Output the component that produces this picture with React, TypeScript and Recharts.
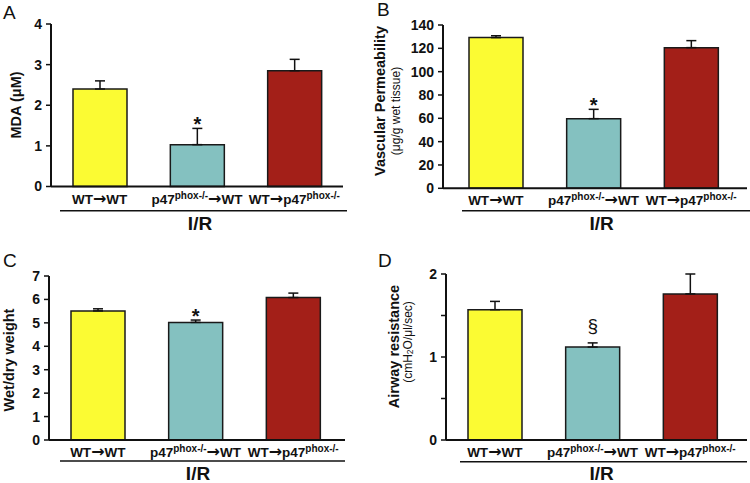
import { Bar, BarChart, Cell, ErrorBar, LabelList, XAxis, YAxis } from 'recharts';

const FONT = '"Liberation Sans", Arial, sans-serif';
const ARROW_FONT = '"DejaVu Sans", sans-serif';
const INK = '#111';

const groups = ['WT→WT', 'p47phox-/-→WT', 'WT→p47phox-/-'];
const barColors = ['#fbfb33', '#84c1c0', '#a31f18'];

const mdaMean = [2.4, 1.03, 2.85];
const mdaSem = [0.2, 0.4, 0.28];
const mdaTicks = [0, 1, 2, 3, 4];

const permMean = [129.2, 59.7, 120.6];
const permSem = [1.6, 8.0, 6.0];
const permTicks = [0, 20, 40, 60, 80, 100, 120, 140];

const wetDryMean = [5.51, 5.02, 6.08];
const wetDrySem = [0.09, 0.1, 0.19];
const wetDryTicks = [0, 1, 2, 3, 4, 5, 6, 7];

const airwayMean = [1.57, 1.12, 1.76];
const airwaySem = [0.1, 0.05, 0.24];
const airwayTicks = [0, 0.5, 1, 1.5, 2];

const starMarks = ['', '*', ''];
const sectionMarks = ['', '§', ''];

const buildRows = (means: number[], sems: number[]) =>
  groups.map((group, i) => ({ group, value: means[i], err: [0, sems[i]] }));

// splits "a→b" labels, draws the arrow wider and "phox-/-" raised
const renderLabel = (label: string) => {
  const out: any[] = [];
  let lift = 0;
  const tokens = label.split(/(→|phox-\/-)/).filter((t) => t !== '');
  tokens.forEach((t, i) => {
    if (t === '→') {
      out.push(
        <tspan key={i} fontFamily={ARROW_FONT} fontWeight="bold" fontSize={16} dy={-lift}>
          {'→'}
        </tspan>
      );
      lift = 0;
    } else if (t.startsWith('phox')) {
      out.push(
        <tspan key={i} fontSize={10} dy={-5}>
          {t}
        </tspan>
      );
      lift = -5;
    } else {
      out.push(
        <tspan key={i} dy={-lift}>
          {t}
        </tspan>
      );
      lift = 0;
    }
  });
  return out;
};

const GroupTick = (props: any) => {
  const { x, y, payload } = props;
  return (
    <text x={x} y={y + 17} textAnchor="middle" fontFamily={FONT} fontWeight="bold" fontSize={13.5} fill={INK}>
      {renderLabel(String(payload.value))}
    </text>
  );
};

// marker above the error bar (significance)
const makeMarker = (marks: string[], means: number[], sems: number[], isStar: boolean) => (props: any) => {
  const { x, y, width, height, index } = props;
  const mark = marks[index];
  if (!mark) return null;
  const perUnit = height / means[index];
  const errTop = y - sems[index] * perUnit;
  return (
    <text
      x={x + width / 2}
      y={isStar ? errTop + 3 : errTop - 11}
      textAnchor="middle"
      fontFamily={FONT}
      fontWeight={isStar ? 'bold' : 'normal'}
      fontSize={isStar ? 20 : 19}
      fill={INK}
    >
      {mark}
    </text>
  );
};

interface PanelProps {
  left: number;
  top: number;
  height: number;
  plotLeft: number;
  plotTop: number;
  plotRight: number;
  xHeight: number;
  pad: { left: number; right: number };
  means: number[];
  sems: number[];
  ticks: number[];
  marks: string[];
  isStar: boolean;
  fmt?: (v: number) => string;
}

const Panel = ({ left, top, height, plotLeft, plotTop, plotRight, xHeight, pad, means, sems, ticks, marks, isStar, fmt }: PanelProps) => {
  const data = buildRows(means, sems);
  return (
    <div style={{ position: 'absolute', left, top, width: 375, height }}>
      <BarChart
        width={375}
        height={height}
        data={data}
        margin={{ top: plotTop, right: 375 - plotRight, bottom: 0, left: 0 }}
      >
        <XAxis
          dataKey="group"
          height={xHeight}
          interval={0}
          tickLine={false}
          tickSize={0}
          tickMargin={0}
          padding={pad}
          axisLine={{ stroke: INK, strokeWidth: 2 }}
          tick={<GroupTick />}
        />
        <YAxis
          width={plotLeft}
          domain={[ticks[0], ticks[ticks.length - 1]]}
          ticks={ticks}
          interval={0}
          tickSize={5}
          tickMargin={4}
          tickFormatter={fmt}
          axisLine={{ stroke: INK, strokeWidth: 2 }}
          tickLine={{ stroke: INK, strokeWidth: 1.5 }}
          tick={{ fontSize: 14, fontWeight: 'bold', fill: INK, fontFamily: FONT }}
        />
        <Bar dataKey="value" barSize={54} stroke="#1a1a1a" strokeWidth={1.5} isAnimationActive={false}>
          {data.map((d, i) => (
            <Cell key={d.group} fill={barColors[i]} />
          ))}
          <ErrorBar dataKey="err" direction="y" width={5} stroke={INK} strokeWidth={1.5} />
          <LabelList dataKey="value" content={makeMarker(marks, means, sems, isStar)} />
        </Bar>
      </BarChart>
    </div>
  );
};

const rotated = (cx: number, cy: number) => `rotate(-90 ${cx} ${cy})`;

const Overlay = () => (
  <svg
    width={750}
    height={483}
    style={{ position: 'absolute', left: 0, top: 0, pointerEvents: 'none' }}
    fontFamily={FONT}
    fill={INK}
  >
    <text x={3} y={19} fontSize={19}>A</text>
    <text x={377} y={16} fontSize={19}>B</text>
    <text x={3} y={267} fontSize={19}>C</text>
    <text x={378} y={267} fontSize={19}>D</text>

    <line x1={60} x2={347} y1={210.7} y2={210.7} stroke={INK} strokeWidth={1.5} />
    <line x1={462} x2={750} y1={210.7} y2={210.7} stroke={INK} strokeWidth={1.5} />
    <line x1={60} x2={345} y1={461} y2={461} stroke={INK} strokeWidth={1.5} />
    <line x1={460} x2={747} y1={461.7} y2={461.7} stroke={INK} strokeWidth={1.5} />

    <text x={200} y={230} fontSize={19} fontWeight="bold" textAnchor="middle">I/R</text>
    <text x={601.7} y={230} fontSize={19} fontWeight="bold" textAnchor="middle">I/R</text>
    <text x={198} y={479.5} fontSize={19} fontWeight="bold" textAnchor="middle">I/R</text>
    <text x={601.7} y={479.5} fontSize={19} fontWeight="bold" textAnchor="middle">I/R</text>

    <text x={15.5} y={105} transform={rotated(15.5, 105)} textAnchor="middle" dominantBaseline="central" fontSize={14.5} fontWeight="bold">
      MDA (μM)
    </text>
    <text x={380} y={101} transform={rotated(380, 101)} textAnchor="middle" dominantBaseline="central" fontSize={14.5} fontWeight="bold">
      Vascular Permeability
    </text>
    <text x={396} y={111} transform={rotated(396, 111)} textAnchor="middle" dominantBaseline="central" fontSize={12}>
      (μg/g wet tissue)
    </text>
    <text x={8.5} y={360} transform={rotated(8.5, 360)} textAnchor="middle" dominantBaseline="central" fontSize={14.5} fontWeight="bold">
      Wet/dry weight
    </text>
    <text x={394} y={346.5} transform={rotated(394, 346.5)} textAnchor="middle" dominantBaseline="central" fontSize={14.5} fontWeight="bold">
      Airway resistance
    </text>
    <text x={408} y={342} transform={rotated(408, 342)} textAnchor="middle" dominantBaseline="central" fontSize={12}>
      (cmH
      <tspan fontSize={8.5} dy={2}>2</tspan>
      <tspan dy={-2}>O/μl/sec)</tspan>
    </text>
  </svg>
);

export default function App() {
  return (
    <div style={{ position: 'absolute', left: 0, top: 0, width: 750, height: 483, background: '#fff', overflow: 'hidden' }}>
      <Panel
        left={0}
        top={0}
        height={240}
        plotLeft={51}
        plotTop={24}
        plotRight={343}
        xHeight={53.5}
        pad={{ left: 0, right: 0 }}
        means={mdaMean}
        sems={mdaSem}
        ticks={mdaTicks}
        marks={starMarks}
        isStar
      />
      <Panel
        left={375}
        top={0}
        height={240}
        plotLeft={68}
        plotTop={25}
        plotRight={372}
        xHeight={51.7}
        pad={{ left: 4, right: 7 }}
        means={permMean}
        sems={permSem}
        ticks={permTicks}
        marks={starMarks}
        isStar
      />
      <Panel
        left={0}
        top={240}
        height={243}
        plotLeft={49}
        plotTop={36}
        plotRight={345}
        xHeight={43}
        pad={{ left: 0, right: 3 }}
        means={wetDryMean}
        sems={wetDrySem}
        ticks={wetDryTicks}
        marks={starMarks}
        isStar
      />
      <Panel
        left={375}
        top={240}
        height={243}
        plotLeft={71}
        plotTop={34}
        plotRight={372}
        xHeight={43}
        pad={{ left: 0, right: 8 }}
        means={airwayMean}
        sems={airwaySem}
        ticks={airwayTicks}
        marks={sectionMarks}
        isStar={false}
        fmt={(v: number) => (Number.isInteger(v) ? String(v) : '')}
      />
      <Overlay />
    </div>
  );
}
